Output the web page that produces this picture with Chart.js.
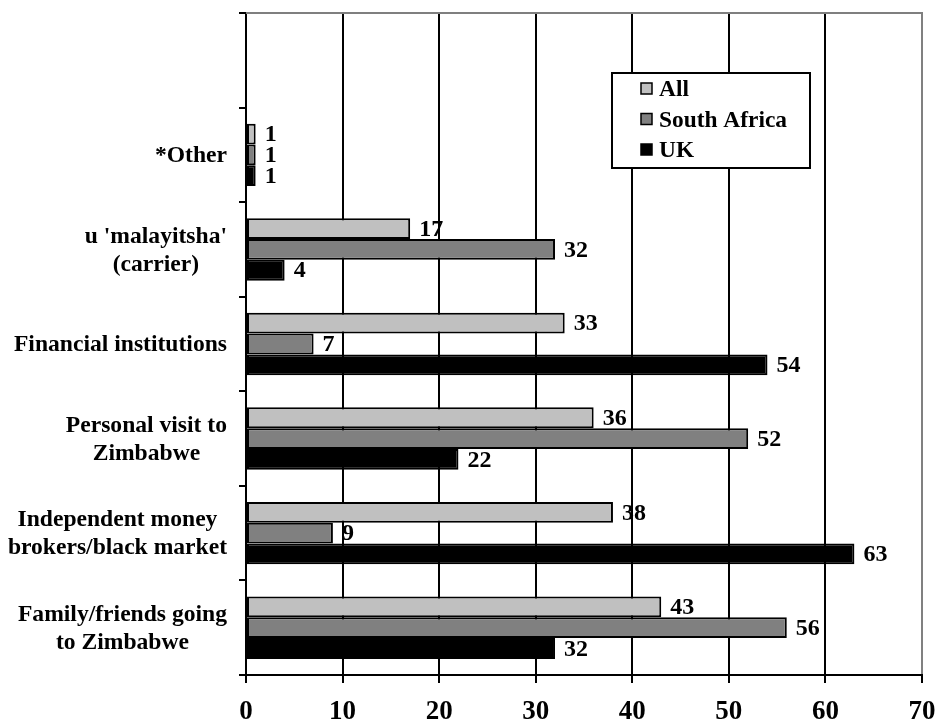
<!DOCTYPE html>
<html>
<head>
<meta charset="utf-8">
<script src="https://cdn.jsdelivr.net/npm/chart.js@4.4.1/dist/chart.umd.min.js"></script>
<style>
  html, body { margin: 0; padding: 0; background: #ffffff; }
  canvas { display: block; }
</style>
</head>
<body>
<canvas id="chart" width="937" height="721"></canvas>
<script>
// Remittance channels, % of respondents
const categories = [
  [''],
  ['*Other'],
  ["u 'malayitsha'", '(carrier)'],
  ['Financial institutions'],
  ['Personal visit to', 'Zimbabwe'],
  ['Independent money', 'brokers/black market'],
  ['Family/friends going', 'to Zimbabwe']
];
const seriesNames = ['All', 'South Africa', 'UK'];
const allValues = [null, 1, 17, 33, 36, 38, 43];
const southAfricaValues = [null, 1, 32, 7, 52, 9, 56];
const ukValues = [null, 1, 4, 54, 22, 63, 32];
const xTickValues = [0, 10, 20, 30, 40, 50, 60, 70];

const seriesColors = ['#c0c0c0', '#808080', '#000000'];
const FONT_FAMILY = "'Liberation Serif', 'Times New Roman', serif";

// Category names, right-aligned as a block with each line centred inside it
const categoryLabels = {
  id: 'categoryLabels',
  afterDraw(chart) {
    const { ctx } = chart;
    const y = chart.scales.y;
    const rightEdge = 227;
    const lineH = 28;
    ctx.save();
    ctx.font = 'bold 23.6px ' + FONT_FAMILY;
    ctx.fillStyle = '#000';
    ctx.textAlign = 'center';
    ctx.textBaseline = 'middle';
    categories.forEach((lines, i) => {
      const block = Math.max(...lines.map(l => ctx.measureText(l).width));
      const cx = rightEdge - block / 2;
      const cy = y.getPixelForValue(i);
      lines.forEach((line, j) => {
        ctx.fillText(line, cx, cy + (j - (lines.length - 1) / 2) * lineH + 1);
      });
    });
    ctx.restore();
  }
};

// Value printed to the right of each bar
const valueLabels = {
  id: 'valueLabels',
  afterDatasetsDraw(chart) {
    const { ctx } = chart;
    ctx.save();
    ctx.font = 'bold 24px ' + FONT_FAMILY;
    ctx.fillStyle = '#000';
    ctx.textAlign = 'left';
    ctx.textBaseline = 'middle';
    chart.data.datasets.forEach((ds, di) => {
      const meta = chart.getDatasetMeta(di);
      meta.data.forEach((bar, i) => {
        const v = ds.data[i];
        if (v === null || v === undefined) return;
        ctx.fillText(String(v), bar.x + 9, bar.y + 1);
      });
    });
    ctx.restore();
  }
};

// Grey top edge of the plot area
const plotFrame = {
  id: 'plotFrame',
  afterDraw(chart) {
    const { ctx, chartArea: a } = chart;
    ctx.save();
    ctx.strokeStyle = '#7f7f7f';
    ctx.lineWidth = 2;
    ctx.beginPath();
    ctx.moveTo(a.left, a.top);
    ctx.lineTo(a.right + 1, a.top);
    ctx.stroke();
    ctx.restore();
  }
};

// Boxed legend inside the plot
const boxedLegend = {
  id: 'boxedLegend',
  afterDraw(chart) {
    const { ctx } = chart;
    const box = { x: 612, y: 73, w: 198, h: 95 };
    ctx.save();
    ctx.fillStyle = '#fff';
    ctx.fillRect(box.x, box.y, box.w, box.h);
    ctx.strokeStyle = '#000';
    ctx.lineWidth = 2;
    ctx.strokeRect(box.x, box.y, box.w, box.h);
    ctx.font = 'bold 23.4px ' + FONT_FAMILY;
    ctx.textAlign = 'left';
    ctx.textBaseline = 'middle';
    chart.data.datasets.forEach((ds, i) => {
      const cy = 89 + i * 30.5;
      ctx.fillStyle = ds.backgroundColor;
      ctx.fillRect(641, cy - 6, 11, 11);
      ctx.lineWidth = 1.5;
      ctx.strokeStyle = '#000';
      ctx.strokeRect(641, cy - 6, 11, 11);
      ctx.fillStyle = '#000';
      ctx.fillText(ds.label, 659, cy + 1);
    });
    ctx.restore();
  }
};

const datasets = [allValues, southAfricaValues, ukValues].map((vals, i) => ({
  label: seriesNames[i],
  data: vals,
  backgroundColor: seriesColors[i],
  borderColor: '#000',
  borderWidth: 2,
  borderSkipped: false,
  barPercentage: 1,
  categoryPercentage: 0.66
}));

new Chart(document.getElementById('chart'), {
  type: 'bar',
  data: { labels: categories.map(l => l.join(' ')), datasets },
  options: {
    indexAxis: 'y',
    responsive: false,
    animation: false,
    devicePixelRatio: 1,
    layout: { padding: { top: 13, right: 15, left: 0, bottom: 0 } },
    plugins: {
      legend: { display: false },
      tooltip: { enabled: false }
    },
    scales: {
      x: {
        min: 0,
        max: 70,
        afterBuildTicks(scale) { scale.ticks = xTickValues.map(v => ({ value: v })); },
        afterFit(scale) {
          scale.height = 46;
          scale.paddingLeft = 0;
          scale.paddingRight = 0;
        },
        ticks: {
          color: '#000',
          font: { family: FONT_FAMILY, size: 27, weight: 'bold' },
          padding: 13,
          maxRotation: 0
        },
        grid: {
          color: (c) => (c.tick && c.tick.value === 70 ? '#808080' : '#000'),
          tickColor: '#000',
          lineWidth: 2,
          tickLength: 8
        },
        border: { color: '#000', width: 2 }
      },
      y: {
        afterFit(scale) {
          scale.width = 246;
          scale.paddingTop = 0;
          scale.paddingBottom = 0;
        },
        ticks: { callback: () => '', padding: 0 },
        grid: {
          offset: true,
          drawOnChartArea: false,
          color: '#000',
          lineWidth: 2,
          tickLength: 7
        },
        border: { color: '#000', width: 2 }
      }
    }
  },
  plugins: [plotFrame, valueLabels, categoryLabels, boxedLegend]
});
</script>
</body>
</html>
